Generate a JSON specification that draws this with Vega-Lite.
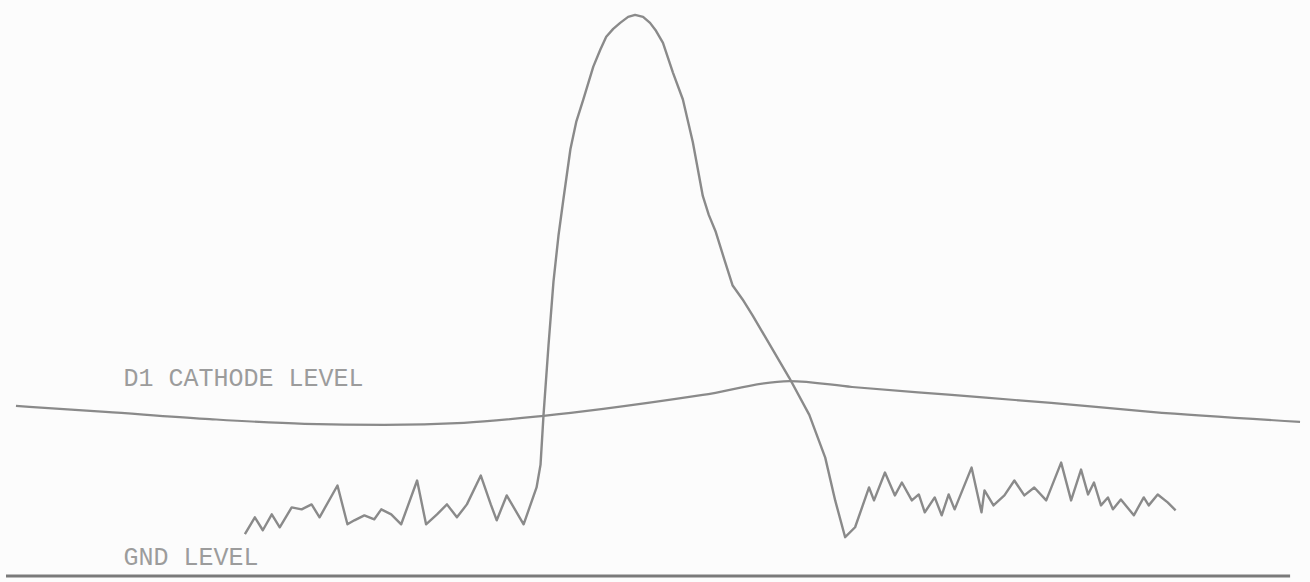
{
  "$schema": "https://vega.github.io/schema/vega-lite/v6.json",
  "width": 1310,
  "height": 582,
  "autosize": {"type": "fit", "contains": "padding"},
  "padding": 0,
  "background": "#fcfcfc",
  "config": {"view": {"stroke": null}},
  "datasets": {
    "signal": [
      {"t":240,"v":45},{"t":250,"v":62},{"t":258,"v":49},{"t":267,"v":65},{"t":275,"v":52},{"t":287,"v":72},{"t":297,"v":70},{"t":307,"v":75},{"t":315,"v":62},{"t":333,"v":94},{"t":343,"v":55},{"t":350,"v":59},{"t":360,"v":64},{"t":370,"v":60},{"t":377,"v":70},{"t":387,"v":65},{"t":397,"v":55},{"t":413,"v":99},{"t":422,"v":55},{"t":433,"v":65},{"t":443,"v":75},{"t":453,"v":62},{"t":463,"v":75},{"t":477,"v":104},{"t":487,"v":75},{"t":493,"v":59},{"t":503,"v":84},{"t":520,"v":55},{"t":533,"v":92},{"t":537,"v":115},{"t":540,"v":165},{"t":545,"v":235},{"t":550,"v":299},{"t":555,"v":345},{"t":560,"v":382},{"t":567,"v":432},{"t":573,"v":460},{"t":580,"v":482},{"t":590,"v":515},{"t":597,"v":532},{"t":603,"v":545},{"t":610,"v":553},{"t":617,"v":559},{"t":625,"v":565},{"t":632,"v":567},{"t":640,"v":565},{"t":647,"v":559},{"t":653,"v":551},{"t":660,"v":539},{"t":670,"v":509},{"t":680,"v":482},{"t":690,"v":439},{"t":700,"v":385},{"t":706,"v":366},{"t":713,"v":349},{"t":722,"v":320},{"t":730,"v":295},{"t":740,"v":281},{"t":750,"v":265},{"t":787,"v":202},{"t":807,"v":165},{"t":823,"v":122},{"t":833,"v":79},{"t":843,"v":42},{"t":853,"v":52},{"t":867,"v":92},{"t":872,"v":79},{"t":883,"v":107},{"t":893,"v":84},{"t":900,"v":97},{"t":910,"v":79},{"t":917,"v":85},{"t":923,"v":67},{"t":933,"v":82},{"t":940,"v":64},{"t":947,"v":85},{"t":953,"v":70},{"t":970,"v":112},{"t":980,"v":67},{"t":983,"v":89},{"t":992,"v":74},{"t":1003,"v":84},{"t":1013,"v":99},{"t":1023,"v":84},{"t":1033,"v":92},{"t":1045,"v":79},{"t":1060,"v":117},{"t":1070,"v":79},{"t":1080,"v":110},{"t":1087,"v":85},{"t":1093,"v":97},{"t":1100,"v":74},{"t":1107,"v":82},{"t":1112,"v":70},{"t":1120,"v":80},{"t":1133,"v":64},{"t":1143,"v":82},{"t":1148,"v":74},{"t":1157,"v":85},{"t":1167,"v":77},{"t":1175,"v":69}
    ],
    "cathode": [
      {"t":10,"v":174},{"t":100,"v":168},{"t":200,"v":161},{"t":300,"v":156},{"t":380,"v":155},{"t":460,"v":157},{"t":540,"v":164},{"t":600,"v":171},{"t":700,"v":185},{"t":787,"v":199},{"t":850,"v":193},{"t":950,"v":185},{"t":1050,"v":177},{"t":1150,"v":168},{"t":1300,"v":158}
    ],
    "gnd": [
      {"t":0,"v":3},{"t":1290,"v":3}
    ],
    "labels": [
      {"label":"D1 CATHODE LEVEL","t":118,"v":202},
      {"label":"GND LEVEL","t":118,"v":22}
    ]
  },
  "layer": [
    {
      "data": {"name": "gnd"},
      "mark": {"type": "line", "stroke": "#7a7a7a", "strokeWidth": 3},
      "encoding": {
        "x": {"field": "t", "type": "quantitative", "scale": {"domain": [0, 1310]}, "axis": null},
        "y": {"field": "v", "type": "quantitative", "scale": {"domain": [0, 582]}, "axis": null}
      }
    },
    {
      "data": {"name": "cathode"},
      "mark": {"type": "line", "stroke": "#8a8a8a", "strokeWidth": 2.2, "interpolate": "monotone"},
      "encoding": {
        "x": {"field": "t", "type": "quantitative", "scale": {"domain": [0, 1310]}, "axis": null},
        "y": {"field": "v", "type": "quantitative", "scale": {"domain": [0, 582]}, "axis": null}
      }
    },
    {
      "data": {"name": "signal"},
      "mark": {"type": "line", "stroke": "#8a8a8a", "strokeWidth": 2.4, "strokeJoin": "round"},
      "encoding": {
        "x": {"field": "t", "type": "quantitative", "scale": {"domain": [0, 1310]}, "axis": null},
        "y": {"field": "v", "type": "quantitative", "scale": {"domain": [0, 582]}, "axis": null}
      }
    },
    {
      "data": {"name": "labels"},
      "mark": {"type": "text", "align": "left", "baseline": "middle", "font": "Liberation Mono", "fontSize": 25, "fill": "#9c9c9c"},
      "encoding": {
        "x": {"field": "t", "type": "quantitative", "scale": {"domain": [0, 1310]}, "axis": null},
        "y": {"field": "v", "type": "quantitative", "scale": {"domain": [0, 582]}, "axis": null},
        "text": {"field": "label"}
      }
    }
  ]
}
